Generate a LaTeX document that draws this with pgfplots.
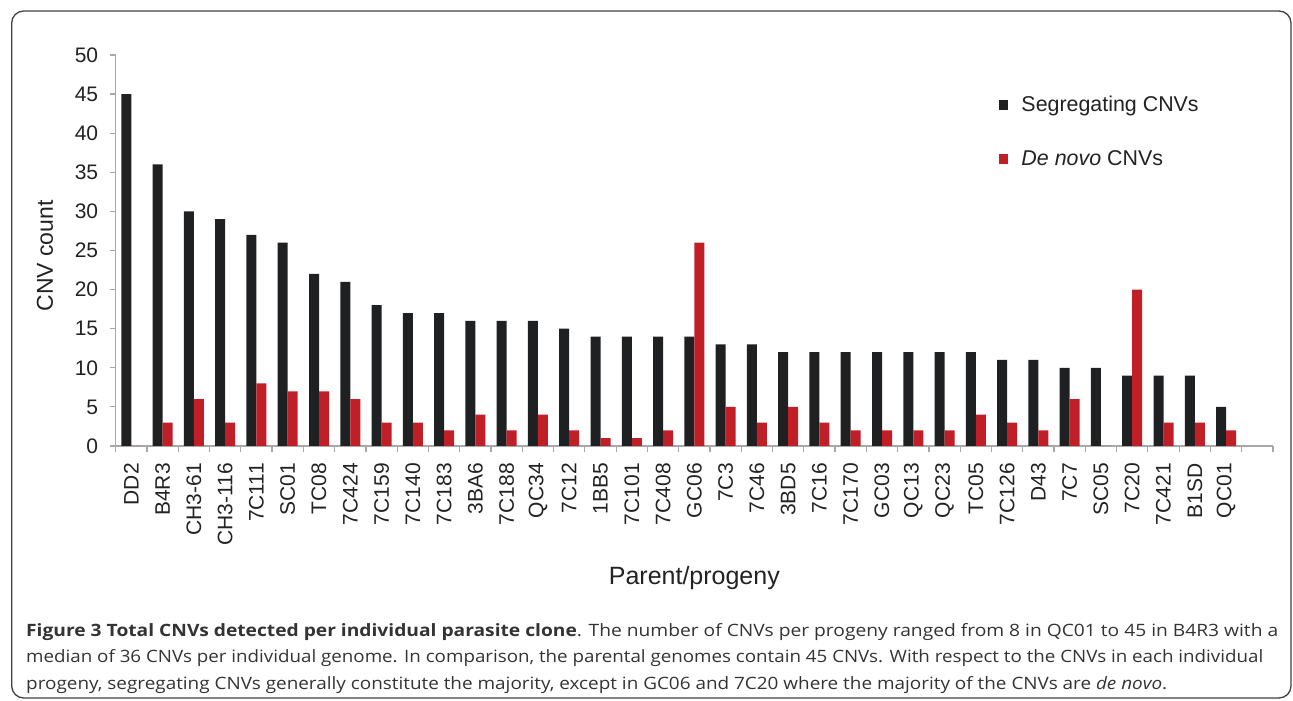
\documentclass[border=0pt]{standalone}
\usepackage{pgfplots}
\pgfplotsset{compat=1.18}
\usepackage{graphicx}
\usepackage{fontspec}
\setmainfont{Liberation Sans}
\newfontfamily\capfont{Open Sans}
\definecolor{segblack}{HTML}{1F2022}
\definecolor{novored}{HTML}{C01F27}
\definecolor{axgray}{HTML}{A8A8A8}
\definecolor{txt}{HTML}{222222}
\definecolor{captxt}{HTML}{333333}
\newcommand\fitline[2]{\setbox0=\hbox{#2}\pgfmathsetmacro\sx{#1/\the\wd0}\scalebox{\sx}[1]{\box0}}
\begin{document}
\begin{tikzpicture}[x=1pt,y=1pt]
\useasboundingbox (0,0) rectangle (1293,701);
\draw[rounded corners=12pt, line width=1.3pt, color=black!75] (11.7,3) rectangle (1291,690);
\begin{axis}[
  at={(115.7pt,255pt)}, anchor=south west, scale only axis,
  width=1157.3pt, height=391pt,
  xmin=-0.5, xmax=36.5, ymin=0, ymax=50,
  ybar=0pt, bar width=10pt,
  axis x line*=bottom, axis y line*=left,
  axis line style={draw=axgray, line width=1.3pt},
  tick align=outside, major tick length=6pt, minor tick length=6pt,
  tick style={draw=axgray, line width=1.2pt},
  ytick={0,5,...,50},
  yticklabel style={font=\fontsize{21}{25}\selectfont, text=txt, xshift=-8pt},
  /pgf/number format/assume math mode=true,
  xtick={0,1,...,35},
  xticklabels={DD2,B4R3,CH3-61,CH3-116,7C111,SC01,TC08,7C424,7C159,7C140,7C183,3BA6,7C188,QC34,7C12,1BB5,7C101,7C408,GC06,7C3,7C46,3BD5,7C16,7C170,GC03,QC13,QC23,TC05,7C126,D43,7C7,SC05,7C20,7C421,B1SD,QC01},
  major x tick style={draw=none},
  minor xtick={-0.5,0.5,...,36.5},
  minor x tick style={draw=axgray, line width=1.2pt},
  xticklabel style={rotate=90, anchor=east, inner sep=0pt, font=\fontsize{21}{25}\selectfont, text=txt},
  xticklabel shift=11pt,
  ylabel={CNV count},
  ylabel style={at={(axis description cs:-0.0611,0.486)}, anchor=center, font=\fontsize{23}{27}\selectfont, text=txt},
  xlabel={Parent/progeny},
  xlabel style={at={(axis description cs:0.5,-0.3376)}, anchor=center, font=\fontsize{25}{29}\selectfont, text=txt},
  legend style={at={(rel axis cs:0.7635,0.90)}, anchor=north west, draw=none, fill=none,
    font=\fontsize{21.4}{25}\selectfont, text=txt, row sep=33pt, inner sep=0pt},
  legend cell align=left,
  legend image code/.code={\path[#1, draw=none] (0pt,-5pt) rectangle (9pt,5pt); \path[draw=none, fill=none] (0pt,0pt) (20pt,0pt);},
]
\addplot[fill=segblack, draw=none] coordinates {
(0,45) (1,36) (2,30) (3,29) (4,27) (5,26) (6,22) (7,21) (8,18) (9,17) (10,17) (11,16) (12,16) (13,16) (14,15) (15,14) (16,14) (17,14) (18,14) (19,13) (20,13) (21,12) (22,12) (23,12) (24,12) (25,12) (26,12) (27,12) (28,11) (29,11) (30,10) (31,10) (32,9) (33,9) (34,9) (35,5)};
\addlegendentry{Segregating CNVs}
\addplot[fill=novored, draw=none] coordinates {
(0,0) (1,3) (2,6) (3,3) (4,8) (5,7) (6,7) (7,6) (8,3) (9,3) (10,2) (11,4) (12,2) (13,4) (14,2) (15,1) (16,1) (17,2) (18,26) (19,5) (20,3) (21,5) (22,3) (23,2) (24,2) (25,2) (26,2) (27,4) (28,3) (29,2) (30,6) (31,0) (32,20) (33,3) (34,3) (35,2)};
\addlegendentry{\textit{De novo} CNVs}
\end{axis}
\begin{scope}[every node/.style={anchor=base west, inner sep=0pt, text=captxt, font=\capfont\fontsize{17}{20}\selectfont}]
\node at (26,64) {\fitline{1252pt}{{\bfseries Figure 3 Total CNVs detected per individual parasite clone}. The number of CNVs per progeny ranged from 8 in QC01 to 45 in B4R3 with a}};
\node at (26,38) {\fitline{1237pt}{median of 36 CNVs per individual genome. In comparison, the parental genomes contain 45 CNVs. With respect to the CNVs in each individual}};
\node at (26,11) {\fitline{1141pt}{progeny, segregating CNVs generally constitute the majority, except in GC06 and 7C20 where the majority of the CNVs are \textit{de novo}.}};
\end{scope}
\end{tikzpicture}
\end{document}
